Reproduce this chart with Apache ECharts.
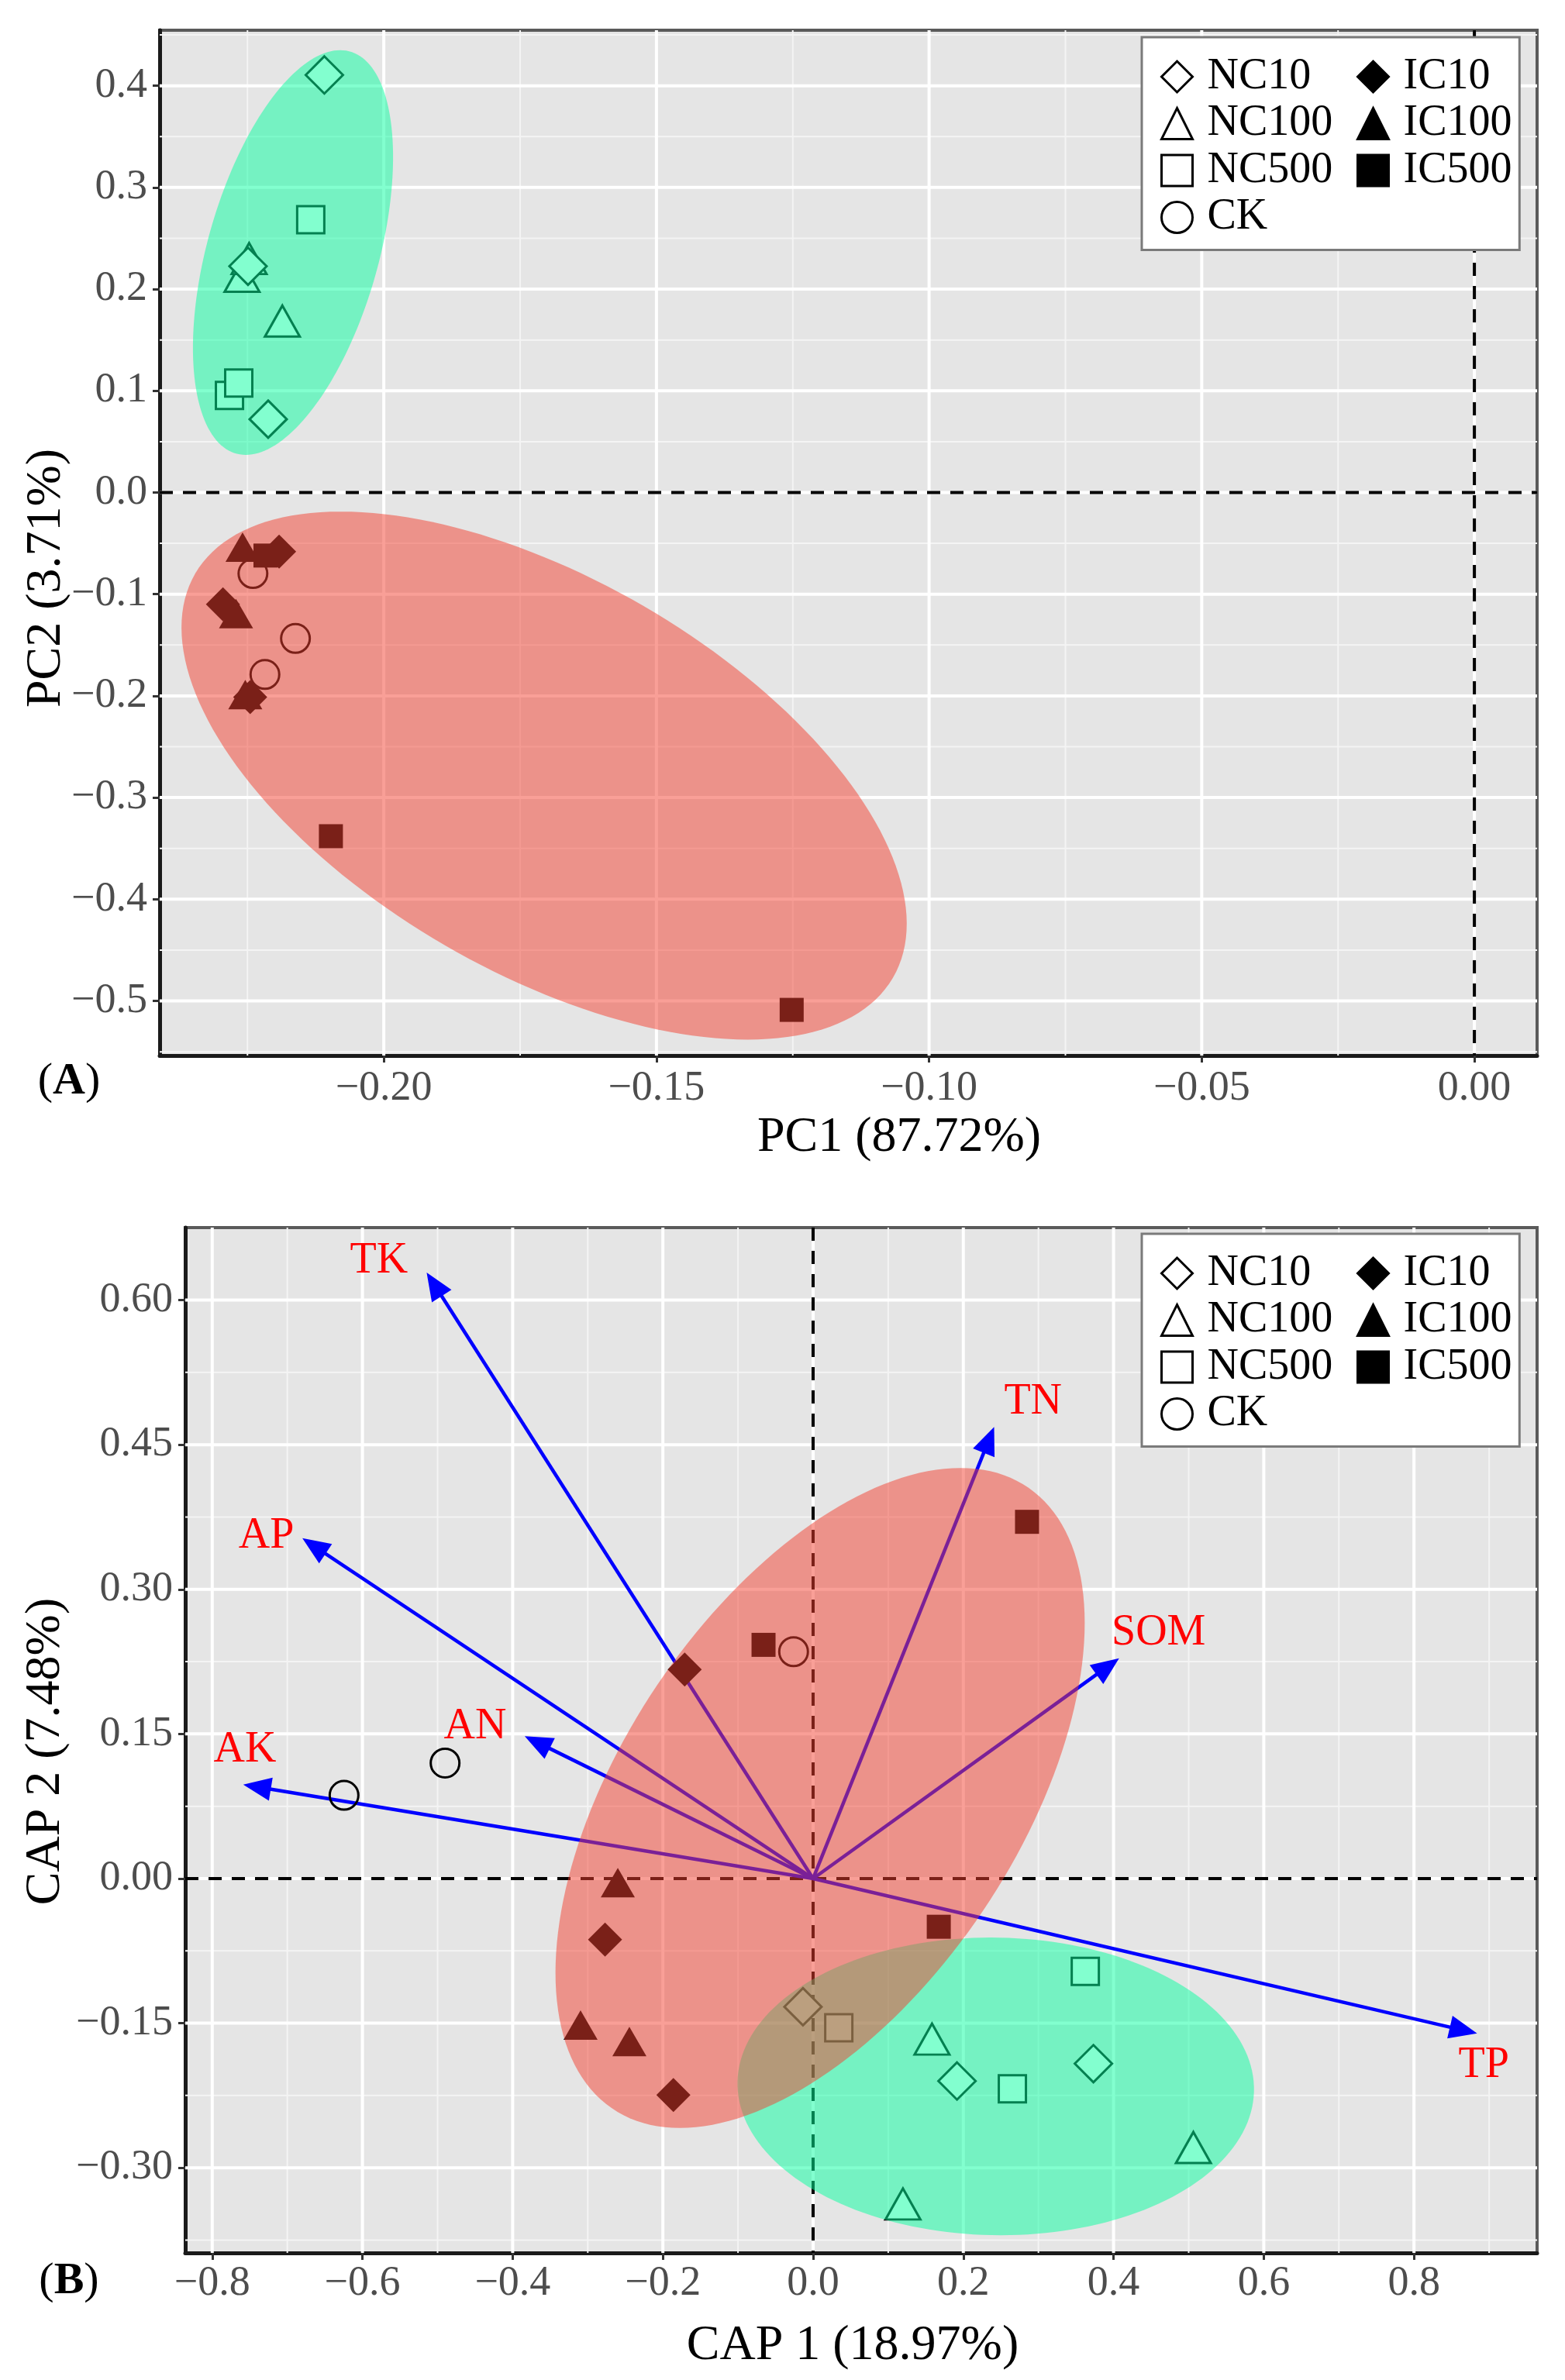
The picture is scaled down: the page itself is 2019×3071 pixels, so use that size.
<!DOCTYPE html>
<html>
<head>
<meta charset="utf-8">
<script src="https://cdn.jsdelivr.net/npm/echarts@6.0.0/dist/echarts.min.js"></script>
<style>
  html, body { margin: 0; padding: 0; background: #ffffff; }
  #chart { width: 2019px; height: 3071px; }
</style>
</head>
<body>
<div id="chart"></div>
<script>
// ---------- panel A: PCA ----------
const groups = ['NC10', 'NC100', 'NC500', 'CK', 'IC10', 'IC100', 'IC500'];

const pcaNC10 = [[-0.2109, 0.4106], [-0.2212, 0.0721], [-0.2249, 0.2225]];
const pcaNC100 = [[-0.2260, 0.2126], [-0.2247, 0.2300], [-0.2186, 0.1686]];
const pcaNC500 = [[-0.2283, 0.0955], [-0.2266, 0.1076], [-0.2134, 0.2682]];
const pcaCK = [[-0.2240, -0.0797], [-0.2162, -0.1435], [-0.2218, -0.1790]];
const pcaIC10 = [[-0.2192, -0.0582], [-0.2295, -0.1100], [-0.2245, -0.2013]];
const pcaIC100 = [[-0.2259, -0.0537], [-0.2271, -0.1190], [-0.2254, -0.1987]];
const pcaIC500 = [[-0.2217, -0.0620], [-0.2097, -0.3380], [-0.1252, -0.5088]];

// ellipse = [xmin, xmax, ymin, ymax, x at top point]
const pcaEllipses = [
  [-0.2350, -0.1983, 0.0370, 0.4350, -0.2080],   // NC group
  [-0.2371, -0.1041, -0.5380, -0.0188, -0.2079]  // IC + CK group
];

const pcaXRange = [-0.2411, 0.0115];
const pcaYRange = [-0.5537, 0.4546];
const pcaXMajor = [-0.20, -0.15, -0.10, -0.05, 0.00];
const pcaXMinor = [-0.225, -0.175, -0.125, -0.075, -0.025];
const pcaYMajor = [-0.5, -0.4, -0.3, -0.2, -0.1, 0.0, 0.1, 0.2, 0.3, 0.4];
const pcaYMinor = [-0.55, -0.45, -0.35, -0.25, -0.15, -0.05, 0.05, 0.15, 0.25, 0.35, 0.45];

// ---------- panel B: CAP ----------
const capNC10 = [[-0.0135, -0.1330], [0.1916, -0.2100], [0.3732, -0.1920]];
const capNC100 = [[0.1583, -0.1666], [0.5063, -0.2790], [0.1196, -0.3375]];
const capNC500 = [[0.0342, -0.1547], [0.2653, -0.2180], [0.3624, -0.0963]];
const capCK = [[-0.0260, 0.2353], [-0.4900, 0.1198], [-0.6245, 0.0863]];
const capIC10 = [[-0.1710, 0.2169], [-0.2770, -0.0633], [-0.1860, -0.2246]];
const capIC100 = [[-0.2600, -0.0043], [-0.3096, -0.1520], [-0.2446, -0.1690]];
const capIC500 = [[-0.0660, 0.2424], [0.2848, 0.3700], [0.1673, -0.0500]];

const capEllipses = [
  [-0.1007, 0.5870, -0.3700, -0.0612, 0.2365],  // NC group
  [-0.3430, 0.3616, -0.2587, 0.4259, 0.1960]    // IC + CK group
];

const envNames = ['TK', 'AP', 'AN', 'AK', 'TN', 'SOM', 'TP'];
const envTips = [[-0.5145, 0.6286], [-0.6800, 0.3530], [-0.3840, 0.1477], [-0.7587, 0.0974],
                 [0.2410, 0.4685], [0.4074, 0.2285], [0.8840, -0.1607]];
const envLabelPos = [[-0.5780, 0.6400], [-0.7280, 0.3554], [-0.4500, 0.1576], [-0.7564, 0.1334],
                     [0.2928, 0.4940], [0.4600, 0.2548], [0.8930, -0.1940]];

const capXRange = [-0.8359, 0.9639];
const capYRange = [-0.3883, 0.6752];
const capXMajor = [-0.8, -0.6, -0.4, -0.2, 0.0, 0.2, 0.4, 0.6, 0.8];
const capXMinor = [-0.7, -0.5, -0.3, -0.1, 0.1, 0.3, 0.5, 0.7, 0.9];
const capYMajor = [-0.30, -0.15, 0.00, 0.15, 0.30, 0.45, 0.60];
const capYMinor = [-0.375, -0.225, -0.075, 0.075, 0.225, 0.375, 0.525];

// ---------- styling ----------
const FONT = '"Liberation Serif", "Times New Roman", serif';
const ELLIPSE_COLORS = ['rgba(5, 255, 159, 0.5)', 'rgba(244, 64, 48, 0.5)'];

const SYMBOL = {
  NC10: 'diamond', NC100: 'triangle', NC500: 'rect', CK: 'circle',
  IC10: 'diamond', IC100: 'triangle', IC500: 'rect'
};
const SIZE = {
  NC10: [48, 48], NC100: [45, 40], NC500: [35, 35], CK: [37, 37],
  IC10: [44, 44], IC100: [44, 38], IC500: [31, 31]
};

function tickFmt(dec) {
  return (v) => (v < -1e-9 ? '\u2212' : '') + Math.abs(v).toFixed(dec);
}

function xAxisDef(gi, range, ticks, dec, margin) {
  return {
    type: 'value', gridIndex: gi, min: range[0], max: range[1], position: 'bottom',
    axisLine: { show: true, onZero: false, lineStyle: { color: '#1a1a1a', width: 5 } },
    axisTick: { show: true, customValues: ticks, length: 9, lineStyle: { color: '#333', width: 3 } },
    axisLabel: {
      show: true, customValues: ticks, formatter: tickFmt(dec), margin,
      fontFamily: FONT, fontSize: 54, color: '#4d4d4d'
    },
    splitLine: { show: false }
  };
}

function yAxisDef(gi, range, ticks, dec) {
  return {
    type: 'value', gridIndex: gi, min: range[0], max: range[1], position: 'left',
    axisLine: { show: true, onZero: false, lineStyle: { color: '#1a1a1a', width: 5 } },
    axisTick: { show: true, customValues: ticks, length: 9, lineStyle: { color: '#333', width: 3 } },
    axisLabel: {
      show: true, customValues: ticks, formatter: tickFmt(dec), margin: 16,
      fontFamily: FONT, fontSize: 54, color: '#4d4d4d'
    },
    splitLine: { show: false }
  };
}

// straight lines across the panel at axis values: [value, 0 = vertical / 1 = horizontal]
function ruleSeries(gi, items, stroke, width, dash, z) {
  return {
    type: 'custom', xAxisIndex: gi, yAxisIndex: gi, z, silent: true, clip: true,
    data: items,
    renderItem(params, api) {
      const cs = params.coordSys;
      const v = api.value(0);
      const style = { stroke, lineWidth: width, lineDash: dash || null };
      if (api.value(1) === 0) {
        const px = api.coord([v, 0])[0];
        return { type: 'line', shape: { x1: px, y1: cs.y, x2: px, y2: cs.y + cs.height }, style };
      }
      const py = api.coord([0, v])[1];
      return { type: 'line', shape: { x1: cs.x, y1: py, x2: cs.x + cs.width, y2: py }, style };
    }
  };
}

function rules(xs, ys) {
  return xs.map((v) => [v, 0]).concat(ys.map((v) => [v, 1]));
}

function ellipseSeries(gi, ellipses) {
  return {
    type: 'custom', xAxisIndex: gi, yAxisIndex: gi, z: 6, silent: true,
    data: ellipses.map((e, i) => ({ value: e, itemStyle: { color: ELLIPSE_COLORS[i] } })),
    renderItem(params, api) {
      const x0 = api.value(0), x1 = api.value(1), y0 = api.value(2), y1 = api.value(3), xt = api.value(4);
      const cx = (x0 + x1) / 2, cy = (y0 + y1) / 2;
      const ax = xt - cx, ay = y1 - cy;
      const wx = (x1 - x0) / 2;
      const bx = Math.sqrt(Math.max(wx * wx - ax * ax, 0));
      const pts = [];
      for (let i = 0; i < 180; i++) {
        const t = (i / 180) * Math.PI * 2;
        pts.push(api.coord([cx + ax * Math.cos(t) + bx * Math.sin(t), cy + ay * Math.cos(t)]));
      }
      return { type: 'polygon', shape: { points: pts }, style: { fill: api.visual('color') } };
    }
  };
}

function pointSeries(gi, name, data) {
  const filled = name.startsWith('IC');
  const fill = filled ? '#000000' : (name === 'CK' ? 'rgba(0,0,0,0)' : '#ffffff');
  return {
    type: 'scatter', name, xAxisIndex: gi, yAxisIndex: gi, z: 4, silent: true,
    data, symbol: SYMBOL[name], symbolSize: SIZE[name],
    itemStyle: { color: fill, borderColor: '#000000', borderWidth: filled ? 0 : 3, opacity: 1 },
    emphasis: { disabled: true }
  };
}

const arrowSeries = {
  type: 'custom', xAxisIndex: 1, yAxisIndex: 1, z: 3, silent: true,
  data: envTips,
  renderItem(params, api) {
    const o = api.coord([0, 0]);
    const p = api.coord([api.value(0), api.value(1)]);
    const dx = p[0] - o[0], dy = p[1] - o[1];
    const L = Math.hypot(dx, dy);
    const ux = dx / L, uy = dy / L;
    const hl = 36, hw = 15;
    const bx = p[0] - ux * hl, by = p[1] - uy * hl;
    return {
      type: 'group',
      children: [
        { type: 'line', shape: { x1: o[0], y1: o[1], x2: bx + ux * 4, y2: by + uy * 4 },
          style: { stroke: '#0000ff', lineWidth: 4.5 } },
        { type: 'polygon', shape: { points: [p, [bx - uy * hw, by + ux * hw], [bx + uy * hw, by - ux * hw]] },
          style: { fill: '#0000ff' } }
      ]
    };
  }
};

const envLabelSeries = {
  type: 'custom', xAxisIndex: 1, yAxisIndex: 1, z: 8, silent: true,
  data: envLabelPos,
  renderItem(params, api) {
    const p = api.coord([api.value(0), api.value(1)]);
    return {
      type: 'text', x: p[0], y: p[1],
      style: {
        text: envNames[params.dataIndex], fill: '#ff0000',
        font: '56px ' + FONT, align: 'center', verticalAlign: 'middle'
      }
    };
  }
};

// legend: a boxed first column (NC + CK) and an unboxed second column (IC) laid on top
function legendCols(top) {
  const common = {
    orient: 'vertical', itemGap: 4.5, itemWidth: 40, itemHeight: 40,
    selectedMode: false, itemStyle: { borderWidth: 3 },
    formatter: (name) => ' ' + name,
    textStyle: { fontFamily: FONT, fontSize: 56, color: '#000' }
  };
  return [
    Object.assign({}, common, {
      data: groups.slice(0, 4), left: 1473, top,
      padding: [23, 241, 14, 24],
      backgroundColor: '#ffffff', borderColor: '#7a7a7a', borderWidth: 3, z: 20
    }),
    Object.assign({}, common, {
      data: groups.slice(4), left: 1750, top: top + 23, padding: 0, z: 21
    })
  ];
}

function titleText(x, y, text, rot) {
  return {
    type: 'text', x, y, rotation: rot || 0, z: 30,
    style: { text, font: '64px ' + FONT, fill: '#000', align: 'center', verticalAlign: 'middle' }
  };
}

function panelTag(x, y, letter) {
  return {
    type: 'text', x, y, z: 30,
    style: {
      text: '{n|(}{b|' + letter + '}{n|)}', align: 'center', verticalAlign: 'middle',
      rich: {
        n: { fontFamily: FONT, fontSize: 58, color: '#222' },
        b: { fontFamily: FONT, fontSize: 58, fontWeight: 'bold', color: '#000' }
      }
    }
  };
}

const pcaPoints = [['NC100', pcaNC100], ['NC500', pcaNC500], ['NC10', pcaNC10], ['CK', pcaCK],
                   ['IC100', pcaIC100], ['IC500', pcaIC500], ['IC10', pcaIC10]];
const capPoints = [['NC100', capNC100], ['NC500', capNC500], ['NC10', capNC10], ['CK', capCK],
                   ['IC100', capIC100], ['IC500', capIC500], ['IC10', capIC10]];

const option = {
  backgroundColor: '#ffffff',
  animation: false,
  textStyle: { fontFamily: FONT },
  grid: [
    { left: 206, top: 39, width: 1777, height: 1323, show: true, backgroundColor: '#e5e5e5',
      borderColor: '#5a5a5a', borderWidth: 4, containLabel: false, outerBoundsMode: 'none' },
    { left: 239, top: 1584, width: 1744, height: 1323, show: true, backgroundColor: '#e5e5e5',
      borderColor: '#5a5a5a', borderWidth: 4, containLabel: false, outerBoundsMode: 'none' }
  ],
  xAxis: [
    xAxisDef(0, pcaXRange, pcaXMajor, 2, 16),
    xAxisDef(1, capXRange, capXMajor, 1, 13)
  ],
  yAxis: [
    yAxisDef(0, pcaYRange, pcaYMajor, 1),
    yAxisDef(1, capYRange, capYMajor, 2)
  ],
  legend: legendCols(48).concat(legendCols(1592)),
  graphic: [
    titleText(1160, 1468, 'PC1 (87.72%)'),
    titleText(60, 746, 'PC2 (3.71%)', Math.PI / 2),
    titleText(1100, 3027, 'CAP 1 (18.97%)'),
    titleText(59, 2260, 'CAP 2 (7.48%)', Math.PI / 2),
    panelTag(89, 1396, 'A'),
    panelTag(89, 2944, 'B')
  ],
  series: [
    ruleSeries(0, rules(pcaXMinor, pcaYMinor), '#f4f4f4', 2, null, 1),
    ruleSeries(0, rules(pcaXMajor, pcaYMajor), '#ffffff', 4, null, 1),
    ruleSeries(1, rules(capXMinor, capYMinor), '#f4f4f4', 2, null, 1),
    ruleSeries(1, rules(capXMajor, capYMajor), '#ffffff', 4, null, 1),
    ruleSeries(0, rules([0], [0]), '#000000', 4, [17, 13], 2),
    ruleSeries(1, rules([0], [0]), '#000000', 4, [17, 13], 2),
    arrowSeries,
    ...pcaPoints.map(([n, d]) => pointSeries(0, n, d)),
    ...capPoints.map(([n, d]) => pointSeries(1, n, d)),
    ellipseSeries(0, pcaEllipses),
    ellipseSeries(1, capEllipses),
    envLabelSeries
  ]
};

const chart = echarts.init(document.getElementById('chart'), null, { renderer: 'canvas' });
chart.setOption(option);
</script>
</body>
</html>
